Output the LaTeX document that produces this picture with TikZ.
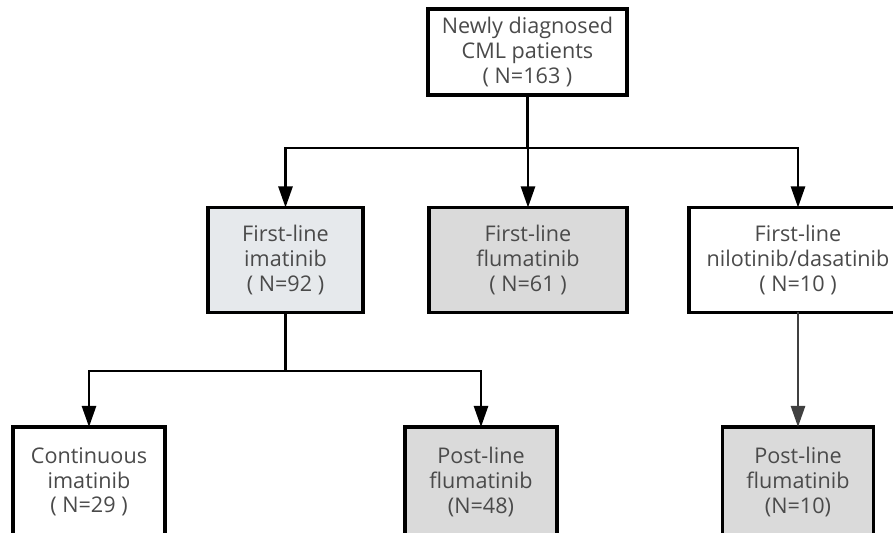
\documentclass[tikz,border=0pt]{standalone}
\usepackage{fontspec}
\setmainfont{Open Sans}
\usetikzlibrary{arrows.meta}
\definecolor{txtgray}{HTML}{4A4A4A}
\definecolor{imatfill}{HTML}{E6E9EC}
\definecolor{flumfill}{HTML}{DADADA}
\definecolor{lastline}{HTML}{404040}
\tikzset{
  flowbox/.style={draw=black, line width=1.6pt, align=center, text=txtgray,
    inner sep=0pt, outer sep=0pt, fill=white,
    font=\fontsize{10.8}{12.3}\selectfont},
  tip/.style={-{Triangle[length=10.5pt,width=7pt]}},
  conn/.style={line width=1.25pt, black}
}
\begin{document}
\begin{tikzpicture}[x=0.5pt, y=-0.5pt]
	\useasboundingbox (0,0) rectangle (893,533);
	\clip (0,0) rectangle (893,533);
	% boxes
	\node [flowbox, minimum width=99.5pt, minimum height=43pt] (newly) at (527.5,52) {Newly diagnosed\\CML patients\\( N=163 )};
	\node [flowbox, fill=imatfill, minimum width=77.5pt, minimum height=52.5pt] (imat) at (285.5,260) {First-line\\imatinib\\( N=92 )};
	\node [flowbox, fill=flumfill, minimum width=99pt, minimum height=52.5pt] (fluma) at (528,260) {First-line\\flumatinib\\( N=61 )};
	\node [flowbox, minimum width=109pt, minimum height=52.5pt] (nilo) at (798,260) {First-line\\nilotinib/dasatinib\\( N=10 )};
	\node [flowbox, minimum width=76pt, minimum height=55pt] (cont) at (89,482) {Continuous\\imatinib\\( N=29 )};
	\node [flowbox, fill=flumfill, minimum width=76pt, minimum height=55pt] (postI) at (481,482) {Post-line\\flumatinib\\(N=48)};
	\node [flowbox, fill=flumfill, minimum width=75.5pt, minimum height=55pt] (postN) at (798,482) {Post-line\\flumatinib\\(N=10)};
	% first split
	\coordinate (split1) at (527.5,148);
	\draw [conn] (newly.south) -- (split1);
	\draw [tip][conn] (split1) -| (imat.north);
	\draw [tip][conn] (split1) -- (split1 -| fluma.north) -- (fluma.north);
	\draw [tip][conn] (split1) -| (nilo.north);
	% second split
	\coordinate (split2) at (285.5,371);
	\draw [conn] (imat.south) -- (split2);
	\draw [tip][conn] (split2) -| (cont.north);
	\draw [tip][conn] (split2) -| (postI.north);
	\draw [tip][conn, lastline] (nilo.south) -- (postN.north);
\end{tikzpicture}
\end{document}
